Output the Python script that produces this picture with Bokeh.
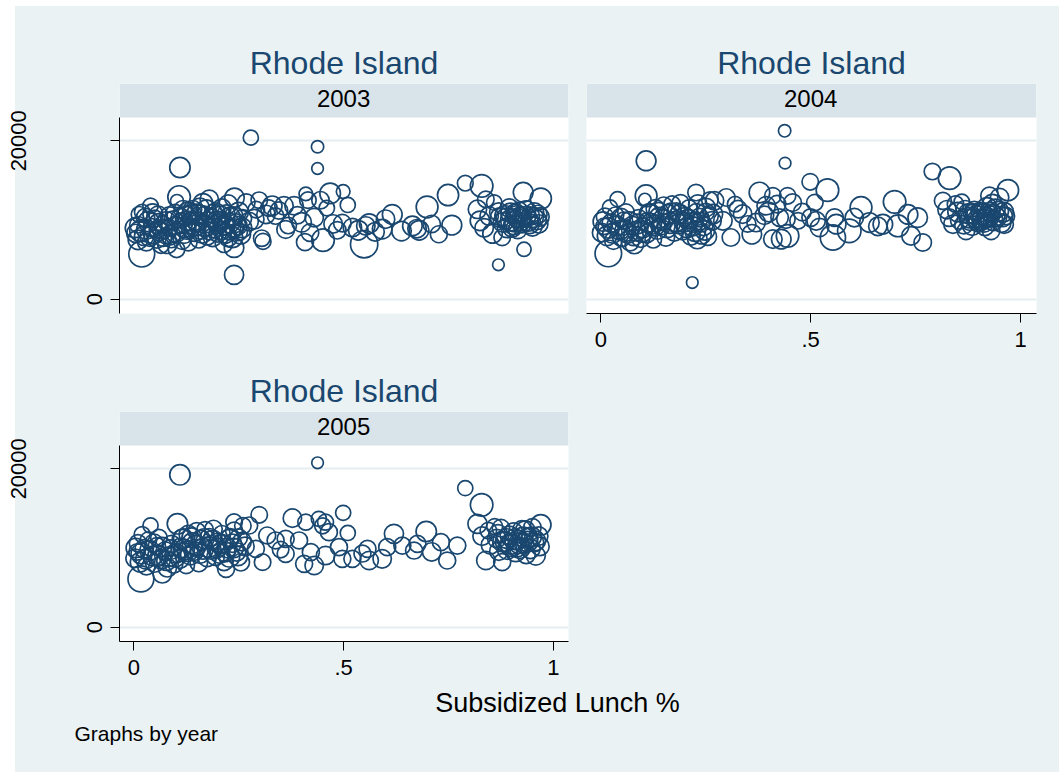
import math
from bokeh.plotting import figure
from bokeh.models import (Range1d, FixedTicker, Grid, BoxAnnotation, Label, Title,
                          Spacer, ColumnDataSource, LinearAxis)
from bokeh.layouts import row, column
from bokeh.embed import file_html
from bokeh.resources import INLINE

# ---------------- data: (subsidized lunch share, spending per pupil, enrollment) ----
state = "Rhode Island"
years = [2003, 2004, 2005]
x_ticks = [0, 0.5, 1]
x_tick_labels = {0: "0", 0.5: ".5", 1: "1"}
y_ticks = [0, 20000]
x_title = "Subsidized Lunch %"
note = "Graphs by year"

schools_2003 = [
    (0.019, 5700, 790), (0.005, 8300, 400), (0.010, 9400, 320), (0.013, 10700, 300),
    (0.025, 8000, 450), (0.030, 7200, 360), (0.040, 11800, 280), (0.045, 9000, 400),
    (0.050, 10200, 320), (0.055, 7600, 400), (0.060, 8600, 450), (0.035, 9800, 500),
    (0.020, 11000, 280), (0.065, 6800, 300), (0.070, 9400, 360), (0.075, 8000, 280),
    (0.080, 7000, 450), (0.085, 9000, 320), (0.090, 7600, 360), (0.095, 10000, 400),
    (0.100, 8400, 450), (0.102, 6300, 320), (0.108, 12900, 600), (0.103, 12400, 200),
    (0.110, 16630, 490),
    (0.115, 9600, 500), (0.120, 8200, 400), (0.125, 10500, 450), (0.130, 7200, 360),
    (0.135, 9000, 400), (0.140, 11300, 400), (0.145, 8600, 500), (0.150, 9800, 450),
    (0.155, 7500, 320), (0.160, 10700, 400), (0.165, 12100, 450), (0.170, 9200, 500),
    (0.175, 8000, 400), (0.180, 12600, 400), (0.185, 10300, 360), (0.190, 9000, 450),
    (0.195, 11000, 400), (0.200, 8300, 360), (0.205, 10000, 320), (0.210, 11500, 400),
    (0.215, 9400, 450), (0.220, 10800, 360), (0.225, 12000, 400), (0.230, 8800, 500),
    (0.235, 7800, 500), (0.239, 6500, 450), (0.240, 12800, 450), (0.239, 3070, 430),
    (0.245, 9600, 400), (0.250, 11000, 450), (0.255, 8200, 450), (0.260, 10200, 360),
    (0.010, 7500, 450), (0.030, 8800, 450), (0.045, 10800, 450), (0.060, 9500, 500),
    (0.070, 7700, 320), (0.085, 10500, 400), (0.100, 9300, 400), (0.115, 7400, 360),
    (0.125, 8800, 450), (0.130, 11000, 500), (0.140, 9800, 450), (0.150, 10700, 500),
    (0.160, 8800, 450), (0.170, 10500, 450), (0.180, 8600, 360), (0.190, 10800, 400),
    (0.200, 9500, 450), (0.210, 8700, 400), (0.220, 9200, 360), (0.230, 10400, 450),
    (0.240, 9000, 400), (0.250, 8500, 360), (0.225, 7800, 400), (0.215, 7000, 360),
    (0.003, 9000, 450), (0.015, 8600, 500), (0.028, 10300, 400), (0.038, 7900, 450),
    (0.048, 8300, 500), (0.058, 10600, 400), (0.068, 8800, 450), (0.078, 9900, 400),
    (0.088, 8100, 450), (0.098, 10800, 400), (0.112, 10200, 450), (0.118, 11300, 400),
    (0.122, 9100, 500), (0.128, 9900, 450), (0.138, 10700, 450), (0.148, 9300, 500),
    (0.158, 11600, 400), (0.163, 8300, 450), (0.173, 11300, 450), (0.178, 9700, 500),
    (0.188, 7800, 400), (0.198, 9900, 450), (0.208, 10600, 400), (0.218, 8300, 450),
    (0.228, 9600, 450), (0.238, 10500, 400), (0.248, 9300, 400), (0.258, 9000, 450),
    (0.268, 12200, 360), (0.275, 9800, 400), (0.279, 20400, 270), (0.287, 10100, 450),
    (0.292, 11300, 320), (0.299, 12500, 320), (0.305, 7700, 320), (0.308, 7300, 300),
    (0.315, 10700, 400), (0.322, 11500, 320), (0.330, 11800, 450), (0.338, 10500, 320),
    (0.346, 11200, 360), (0.358, 11800, 400), (0.362, 8800, 370), (0.368, 9300, 320),
    (0.382, 11800, 400), (0.390, 10600, 360), (0.400, 9700, 450), (0.408, 7200, 340),
    (0.410, 13300, 220), (0.415, 12500, 320), (0.420, 8400, 360), (0.430, 10300, 400),
    (0.438, 19240, 180), (0.438, 16500, 160), (0.445, 12500, 360), (0.451, 7450, 600),
    (0.460, 11500, 280), (0.468, 13350, 500), (0.475, 9500, 400), (0.485, 8700, 360),
    (0.497, 9600, 360), (0.499, 13600, 220), (0.510, 11900, 270), (0.521, 9050, 400),
    (0.535, 8700, 450), (0.549, 6950, 880), (0.553, 9250, 400), (0.561, 9550, 450),
    (0.575, 8500, 400), (0.592, 8850, 450), (0.600, 10100, 400), (0.616, 10700, 460),
    (0.638, 8600, 450), (0.664, 9250, 450), (0.675, 8900, 400), (0.680, 8700, 450),
    (0.699, 11650, 560), (0.710, 9500, 360), (0.727, 8200, 340), (0.749, 13150, 530),
    (0.758, 9350, 460),
    (0.790, 14650, 290), (0.819, 11350, 400), (0.829, 14300, 600), (0.825, 9900, 450),
    (0.835, 9000, 400), (0.839, 12600, 320), (0.847, 10500, 400), (0.855, 8300, 450),
    (0.859, 12200, 280), (0.869, 4340, 160), (0.870, 11000, 400), (0.878, 7800, 320),
    (0.880, 9700, 450), (0.885, 10500, 500), (0.890, 9000, 450), (0.895, 11500, 400),
    (0.900, 10000, 560), (0.905, 9400, 450), (0.910, 10800, 450), (0.915, 8800, 400),
    (0.920, 10300, 500), (0.925, 9600, 450), (0.928, 13500, 460), (0.930, 6300, 240),
    (0.935, 11200, 450), (0.940, 9900, 500), (0.945, 10500, 400), (0.950, 9200, 450),
    (0.955, 11000, 400), (0.960, 10000, 450), (0.965, 9500, 400), (0.970, 12700, 530),
    (0.968, 10400, 400),
    (0.888, 10200, 500), (0.898, 10900, 450), (0.908, 9800, 500), (0.918, 11100, 400),
    (0.923, 10000, 500), (0.933, 10400, 500), (0.943, 9500, 450), (0.953, 10300, 450),
    (0.963, 10700, 400), (0.873, 10300, 450), (0.913, 10500, 500), (0.902, 9000, 400),
]

schools_2004 = [
    (0.018, 5770, 830), (0.040, 12630, 270), (0.022, 11580, 270), (0.010, 10400, 350),
    (0.002, 8400, 400), (0.008, 9200, 320), (0.015, 8000, 450), (0.025, 9600, 400),
    (0.030, 7400, 360), (0.035, 10600, 320), (0.045, 8700, 450), (0.050, 7800, 400),
    (0.055, 9900, 360), (0.060, 11000, 320), (0.065, 8300, 450), (0.070, 7200, 360),
    (0.075, 9300, 400), (0.080, 6900, 400), (0.085, 8600, 450), (0.090, 10200, 360),
    (0.095, 7700, 400), (0.100, 9000, 450), (0.105, 12600, 180), (0.108, 13050, 560),
    (0.108, 17470, 460), (0.110, 8300, 400), (0.115, 10800, 450), (0.120, 9500, 500),
    (0.125, 7500, 320), (0.130, 11400, 400), (0.135, 8800, 450), (0.140, 10300, 500),
    (0.145, 9300, 400), (0.150, 11800, 360), (0.155, 7800, 360), (0.160, 10700, 450),
    (0.165, 9600, 500), (0.170, 12000, 320), (0.175, 8500, 400), (0.180, 11000, 400),
    (0.185, 9500, 450), (0.190, 12100, 360), (0.195, 8600, 360), (0.200, 10400, 400),
    (0.205, 9000, 450), (0.210, 11500, 320), (0.215, 8000, 400), (0.218, 2100, 160),
    (0.220, 9700, 450), (0.225, 8600, 500), (0.227, 13470, 320), (0.230, 7600, 450),
    (0.231, 12000, 400), (0.235, 10300, 400), (0.240, 8200, 450), (0.245, 9200, 400),
    (0.250, 11000, 360), (0.255, 7900, 360), (0.260, 12500, 320), (0.265, 9900, 400),
    (0.005, 9800, 450), (0.018, 9000, 500), (0.028, 8300, 450), (0.038, 9300, 450),
    (0.048, 10300, 400), (0.058, 8600, 500), (0.068, 9800, 450), (0.078, 8000, 450),
    (0.088, 9500, 450), (0.098, 8500, 500), (0.112, 9700, 450), (0.118, 10800, 450),
    (0.128, 9300, 500), (0.138, 11000, 450), (0.148, 10000, 500), (0.158, 9000, 450),
    (0.168, 10900, 450), (0.178, 9800, 500), (0.188, 10700, 450), (0.198, 9700, 450),
    (0.208, 10100, 450), (0.218, 9200, 450), (0.228, 10900, 400), (0.238, 9700, 450),
    (0.248, 8700, 450), (0.258, 10500, 400),
    (0.251, 11580, 400), (0.267, 10735, 450), (0.271, 12420, 400), (0.291, 9890, 400),
    (0.299, 12840, 360), (0.310, 7790, 360), (0.327, 11370, 360), (0.338, 10735, 400),
    (0.350, 9500, 320), (0.320, 12000, 280), (0.360, 8200, 450), (0.370, 9680, 400),
    (0.378, 13470, 500), (0.390, 10600, 400), (0.394, 11800, 400), (0.400, 11000, 450),
    (0.410, 13050, 320), (0.410, 7580, 400), (0.420, 12000, 360), (0.426, 10300, 360),
    (0.430, 7580, 450), (0.438, 21260, 180), (0.439, 17180, 160), (0.441, 10100, 400),
    (0.445, 13050, 320), (0.445, 8000, 600), (0.457, 12200, 360), (0.470, 9900, 320),
    (0.480, 11000, 360), (0.499, 14820, 320), (0.500, 10300, 360), (0.510, 12200, 320),
    (0.513, 9890, 400), (0.521, 9050, 400), (0.540, 13770, 600), (0.553, 7790, 750),
    (0.557, 10300, 360), (0.561, 9470, 450), (0.592, 8630, 650), (0.604, 10300, 400),
    (0.620, 11580, 560), (0.640, 9680, 450), (0.660, 9200, 400), (0.672, 9470, 450),
    (0.700, 12290, 600), (0.708, 9260, 560), (0.732, 10700, 450), (0.739, 8000, 400),
    (0.755, 10300, 450), (0.767, 7160, 360),
    (0.790, 16120, 320), (0.831, 15280, 600), (0.815, 12420, 340), (0.825, 11300, 400),
    (0.830, 10300, 360), (0.839, 9470, 400), (0.845, 12000, 320), (0.850, 11000, 450),
    (0.855, 10000, 400), (0.860, 12300, 280), (0.865, 9400, 400), (0.870, 8630, 360),
    (0.875, 10800, 450), (0.880, 10000, 500), (0.885, 9300, 450), (0.890, 11200, 400),
    (0.895, 10400, 560), (0.900, 9700, 450), (0.905, 11000, 450), (0.910, 10100, 500),
    (0.915, 9200, 400), (0.920, 11600, 450), (0.925, 10500, 500), (0.926, 13050, 360),
    (0.930, 8630, 360), (0.935, 9900, 450), (0.940, 11400, 450), (0.945, 10300, 400),
    (0.950, 12840, 400), (0.955, 9600, 400), (0.960, 11000, 450), (0.961, 9470, 400),
    (0.965, 10500, 360), (0.970, 13770, 530),
    (0.878, 10300, 500), (0.888, 10800, 450), (0.898, 10000, 500), (0.908, 10700, 500),
    (0.918, 10300, 500), (0.928, 11000, 450), (0.938, 10500, 500), (0.948, 11100, 450),
    (0.958, 10400, 450), (0.868, 11300, 400), (0.913, 9700, 450), (0.933, 12000, 450),
]

schools_2005 = [
    (0.017, 6100, 790), (0.040, 12840, 270), (0.020, 11700, 300), (0.010, 10600, 350),
    (0.003, 8700, 400), (0.008, 9500, 320), (0.015, 8200, 450), (0.025, 9900, 400),
    (0.030, 7700, 360), (0.035, 11000, 320), (0.045, 9000, 450), (0.050, 8100, 400),
    (0.055, 10200, 360), (0.060, 11300, 320), (0.065, 8600, 450), (0.068, 6740, 400),
    (0.075, 9600, 400), (0.080, 7500, 400), (0.085, 8900, 450), (0.090, 10500, 360),
    (0.095, 8000, 400), (0.100, 9300, 450), (0.104, 13050, 490), (0.110, 19240, 490),
    (0.110, 8600, 400), (0.115, 11100, 450), (0.120, 9800, 500), (0.125, 7800, 320),
    (0.130, 11700, 400), (0.135, 9100, 450), (0.140, 10600, 500), (0.145, 9600, 400),
    (0.150, 12100, 360), (0.155, 8100, 360), (0.160, 11000, 450), (0.165, 9900, 500),
    (0.170, 12300, 320), (0.175, 8800, 400), (0.180, 11300, 400), (0.185, 9800, 450),
    (0.190, 12400, 360), (0.195, 8900, 360), (0.200, 10700, 400), (0.205, 9300, 450),
    (0.210, 11800, 320), (0.215, 8300, 400), (0.220, 7370, 340), (0.222, 10000, 450),
    (0.228, 8900, 500), (0.230, 11300, 400), (0.235, 10600, 400), (0.239, 13260, 320),
    (0.239, 12200, 340), (0.245, 9500, 400), (0.250, 11300, 360), (0.255, 8200, 360),
    (0.260, 12800, 320), (0.265, 10200, 400),
    (0.005, 10000, 450), (0.018, 9300, 500), (0.028, 8600, 450), (0.038, 9700, 450),
    (0.048, 10600, 400), (0.058, 9000, 500), (0.068, 10100, 450), (0.078, 8400, 450),
    (0.088, 9800, 450), (0.098, 8900, 500), (0.112, 10000, 450), (0.118, 11200, 450),
    (0.128, 9600, 500), (0.138, 11300, 450), (0.148, 10300, 500), (0.158, 9300, 450),
    (0.168, 11200, 450), (0.178, 10100, 500), (0.188, 11000, 450), (0.198, 10000, 450),
    (0.208, 10500, 450), (0.218, 9500, 450), (0.228, 11200, 400), (0.238, 10000, 450),
    (0.248, 9000, 450), (0.258, 10800, 400),
    (0.275, 12840, 340), (0.291, 9890, 340),
    (0.299, 14190, 320), (0.307, 8210, 320), (0.318, 11580, 340), (0.338, 10950, 340),
    (0.350, 9800, 320), (0.362, 11160, 340), (0.362, 9260, 340), (0.378, 13770, 400),
    (0.394, 10950, 340), (0.406, 8000, 340), (0.410, 13260, 300), (0.422, 9470, 340),
    (0.430, 7790, 400), (0.438, 20755, 160), (0.441, 13680, 270), (0.450, 12800, 300),
    (0.457, 13260, 300), (0.457, 9050, 400), (0.465, 12000, 340), (0.489, 10100, 340),
    (0.497, 8630, 340), (0.499, 14440, 270), (0.510, 11900, 270), (0.521, 8630, 340),
    (0.545, 9300, 340), (0.557, 9890, 340), (0.561, 8420, 400), (0.592, 8630, 400),
    (0.604, 10100, 340), (0.620, 11790, 430), (0.640, 10300, 340), (0.668, 9680, 340),
    (0.676, 10525, 340), (0.697, 12080, 490), (0.710, 9500, 400), (0.732, 10735, 340),
    (0.747, 8420, 340), (0.771, 10300, 340),
    (0.790, 17555, 270), (0.829, 15450, 600), (0.819, 13050, 430), (0.830, 11500, 400),
    (0.839, 8420, 400), (0.845, 12200, 320), (0.850, 10400, 400), (0.860, 12700, 300),
    (0.865, 11200, 400), (0.870, 9600, 400), (0.875, 12500, 360), (0.878, 8210, 340),
    (0.885, 10800, 450), (0.890, 9800, 450), (0.895, 11600, 400), (0.900, 10300, 560),
    (0.905, 12000, 400), (0.910, 9500, 450), (0.915, 11000, 450), (0.920, 10000, 500),
    (0.925, 12300, 400), (0.930, 10600, 450), (0.935, 9200, 400), (0.940, 11300, 450),
    (0.945, 9900, 450), (0.950, 12600, 360), (0.955, 10700, 400), (0.958, 9050, 430),
    (0.965, 11500, 400), (0.970, 12925, 490), (0.968, 10200, 400),
    (0.880, 10800, 500), (0.888, 11200, 450), (0.898, 10500, 500), (0.908, 11100, 500),
    (0.918, 10600, 500), (0.928, 11400, 450), (0.938, 10800, 500), (0.948, 11400, 450),
    (0.958, 10900, 450), (0.868, 11800, 400), (0.913, 10100, 450), (0.933, 12200, 450),
]

# ---------------- styling ----------------
BG = "#eaf2f3"
STRIP = "#d9e4ea"
NAVY = "#1a476f"
GRID = "#e6eef1"
FONT = "Liberation Sans"

Y0, Y1, YSTRIP = -1806, 27234, 22942
FRAME_H = 230


def style_axis(ax, ticks, standoff):
    ax.ticker = FixedTicker(ticks=ticks)
    ax.major_label_text_font_size = "22px"
    ax.major_label_text_font = FONT
    ax.major_label_text_color = "black"
    ax.major_label_standoff = standoff
    ax.major_tick_out = 9
    ax.major_tick_in = 0
    ax.minor_tick_line_color = None
    ax.axis_line_color = "black"
    ax.major_tick_line_color = "black"


def panel(year, pts, width, mbl, mbr, mbt, mbb, xr, show_x, show_y):
    p = figure(width=width, height=mbt + FRAME_H + mbb,
               x_range=Range1d(*xr), y_range=Range1d(Y0, Y1),
               x_axis_location="below" if show_x else None,
               y_axis_location="left" if show_y else None,
               toolbar_location=None, output_backend="svg",
               min_border_left=mbl, min_border_right=mbr,
               min_border_top=mbt, min_border_bottom=mbb,
               background_fill_color="white", border_fill_color=None,
               outline_line_color=None)
    for g in p.grid:
        g.visible = False
    p.add_layout(Grid(dimension=1, ticker=FixedTicker(ticks=y_ticks),
                      grid_line_color=GRID, grid_line_width=2))
    p.add_layout(BoxAnnotation(bottom=YSTRIP, fill_color=STRIP, fill_alpha=1.0,
                               line_color=None, level="underlay"))
    p.add_layout(Label(x=0.5, y=25300, text=str(year), text_align="center",
                       text_baseline="middle", text_font_size="24px",
                       text_font=FONT, text_color="black"))
    p.add_layout(Title(text=state, align="center", text_font_size="32px",
                       text_font=FONT, text_font_style="normal",
                       text_color=NAVY, standoff=6), "above")
    src = ColumnDataSource(dict(
        x=[r[0] for r in pts], y=[r[1] for r in pts],
        s=[0.92 * math.sqrt(r[2]) for r in pts]))
    p.scatter("x", "y", size="s", source=src, marker="circle",
              fill_color=None, line_color=NAVY, line_width=1.7)
    if show_y:
        ax = p.yaxis[0]
        style_axis(ax, y_ticks, 8)
        ax.bounds = (Y0, YSTRIP)
        ax.major_label_orientation = "vertical"
        ax.major_label_overrides = {20000: ""}
        ax2 = LinearAxis()
        style_axis(ax2, [20000], 49)
        ax2.major_label_orientation = "vertical"
        ax2.axis_line_color = None
        ax2.major_tick_line_color = None
        p.add_layout(ax2, "left")
    if show_x:
        ax = p.xaxis[0]
        style_axis(ax, x_ticks, 9)
        ax.major_label_overrides = x_tick_labels
    return p


p1 = panel(years[0], schools_2003, 577, 119, 9, 77, 45, (-0.034, 1.036), False, True)
p2 = panel(years[1], schools_2004, 482, 9, 23, 77, 45, (-0.034, 1.038), True, False)
p3 = panel(years[2], schools_2005, 1059, 119, 491, 53, 45, (-0.034, 1.036), True, True)

foot = figure(width=1044, height=86, x_range=Range1d(0, 1044), y_range=Range1d(86, 0),
              x_axis_location=None, y_axis_location=None, toolbar_location=None,
              output_backend="svg", min_border=0, outline_line_color=None,
              background_fill_color=None, border_fill_color=None)
for g in foot.grid:
    g.visible = False
foot.add_layout(Label(x=542, y=16.5, text=x_title, text_align="center",
                      text_baseline="middle", text_font_size="27px",
                      text_font=FONT, text_color="black"))
foot.add_layout(Label(x=59, y=47, text=note, text_align="left",
                      text_baseline="middle", text_font_size="21px",
                      text_font=FONT, text_color="black"))

page_bg = "linear-gradient(to right, #ffffff 0px, #ffffff 15px, %s 15px, %s 100%%)" % (BG, BG)
body = column(row(p1, p2), p3, row(Spacer(width=15, height=86), foot),
              styles={"background": page_bg})
layout = column(Spacer(width=1059, height=6), body)

open("out.html", "w").write(file_html(layout, INLINE))
